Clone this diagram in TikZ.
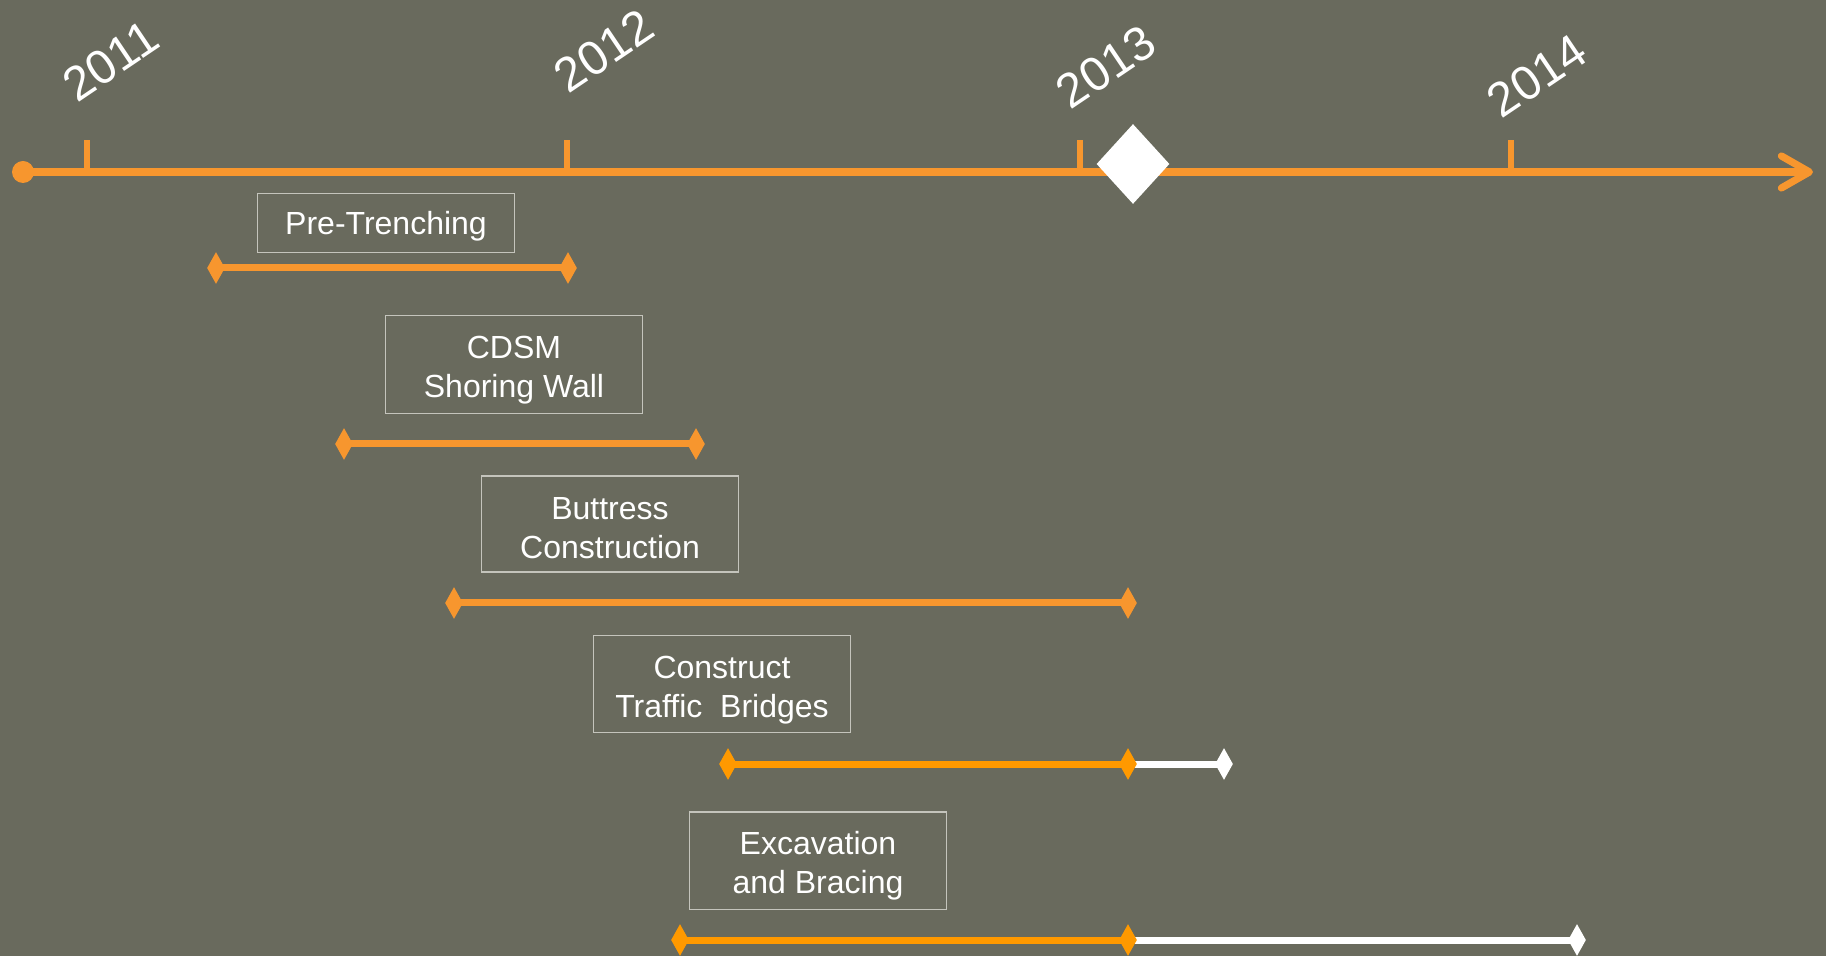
\documentclass[tikz,border=0pt]{standalone}
\usepackage{fontspec}
\setmainfont{Liberation Sans}
\usetikzlibrary{shapes.geometric,arrows.meta}
\definecolor{bg}{HTML}{696A5D}
\definecolor{orA}{HTML}{F7962E}
\definecolor{orB}{HTML}{FF9900}
\definecolor{boxline}{HTML}{C4C4BC}
\pgfdeclarelayer{background}
\pgfsetlayers{background,main}
\newcommand{\lowtxt}[2][3pt]{\raisebox{-#1}[\height][\depth]{#2}}
\begin{document}
\begin{tikzpicture}[x=0.5pt,y=-0.5pt,
  box/.style={draw=boxline, line width=0.6pt, text=white,
    font=\fontsize{16}{19.6}\selectfont, align=center, inner sep=0pt,
    minimum width=128.3pt},
  year/.style={text=white, font=\fontsize{24}{27}\selectfont, rotate=34, inner sep=0pt},
  mk/.style={diamond, fill=#1, draw=none, minimum width=9pt, minimum height=16pt, inner sep=0pt},
  barA/.style={draw=orA, line width=3.5pt},
  barB/.style={draw=orB, line width=3.5pt},
  barW/.style={draw=white, line width=3.5pt},
  axis/.style={draw=orA, line width=3.6pt},
  tickmark/.style={draw=orA, line width=2.7pt}]
\begin{pgfonlayer}{background}
\fill[bg] (0,0) rectangle (1826,956);
\end{pgfonlayer}
\useasboundingbox (0,0) rectangle (1826,956);

% main axis
\node[circle, fill=orA, minimum size=11pt, inner sep=0pt] (start) at (23,172) {};
\coordinate (axend) at (1813,172);
\begin{pgfonlayer}{background}
\draw[axis, -{Straight Barb[length=14pt,width=16pt,line cap=round,line join=round]}] (start.center) -- (axend);
\end{pgfonlayer}

% ticks
\foreach \n/\x in {a/87, b/567, c/1080, d/1511}{
  \coordinate (tb\n) at (\x,173);
  \coordinate (tt\n) at (\x,140);
  \draw[tickmark] (tb\n) -- (tt\n);
}

% milestone
\node[diamond, fill=white, draw=none, minimum width=36.5pt, minimum height=40pt, inner sep=0pt] (ms) at (1133,164) {};

% years
\node[year] (y2011) at (111,61) {2011};
\node[year] (y2012) at (604,51) {2012};
\node[year] (y2013) at (1106,67) {2013};
\node[year] (y2014) at (1537,76) {2014};

% boxes
\node[box, minimum height=29.2pt] (pre) at (386,223) {\lowtxt[1.6pt]{Pre-Trenching}};
\node[box, minimum height=48.8pt] (cdsm) at (514,364.5) {\lowtxt{CDSM}\\\lowtxt{Shoring Wall}};
\node[box, minimum height=48pt] (butt) at (610,524) {\lowtxt[2pt]{Buttress}\\\lowtxt[2pt]{Construction}};
\node[box, minimum height=48.2pt] (cons) at (722,684) {\lowtxt{Construct}\\\lowtxt{Traffic~ Bridges}};
\node[box, minimum height=48.6pt] (exc) at (818,860.5) {\lowtxt[2.5pt]{Excavation}\\\lowtxt[2.5pt]{and Bracing}};

% bar markers
\node[mk=orA] (b1l) at (216,268) {};
\node[mk=orA] (b1r) at (568,268) {};
\node[mk=orA] (b2l) at (344,444) {};
\node[mk=orA] (b2r) at (696,444) {};
\node[mk=orA] (b3l) at (454,603) {};
\node[mk=orA] (b3r) at (1128,603) {};
\node[mk=orB] (b4l) at (728,764) {};
\node[mk=orB] (b4m) at (1128,764) {};
\node[mk=white] (b4r) at (1224,764) {};
\node[mk=orB] (b5l) at (680,940) {};
\node[mk=orB] (b5m) at (1128,940) {};
\node[mk=white] (b5r) at (1577,940) {};

\begin{pgfonlayer}{background}
\draw[barA] (b1l.center) -- (b1r.center);
\draw[barA] (b2l.center) -- (b2r.center);
\draw[barA] (b3l.center) -- (b3r.center);
\draw[barB] (b4l.center) -- (b4m.center);
\draw[barW] (b4m.center) -- (b4r.center);
\draw[barB] (b5l.center) -- (b5m.center);
\draw[barW] (b5m.center) -- (b5r.center);
\end{pgfonlayer}
\end{tikzpicture}
\end{document}
